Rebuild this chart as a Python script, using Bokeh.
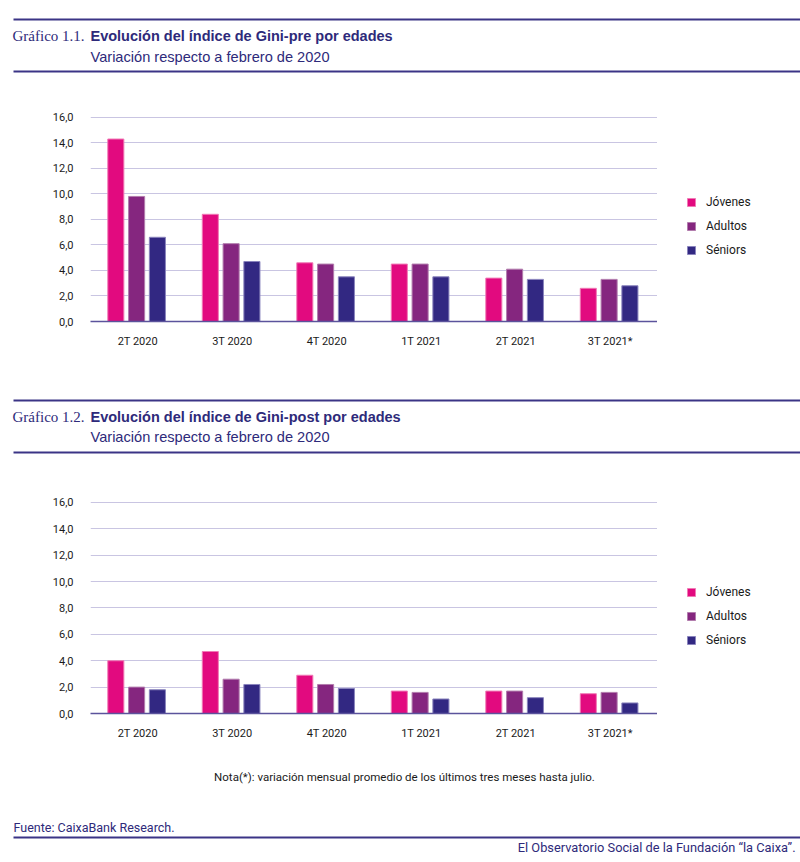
from bokeh.plotting import figure
from bokeh.models import (Range1d, FactorRange, FixedTicker, Legend, LegendItem,
                          ColumnDataSource, CustomJSTickFormatter)
from bokeh.transform import dodge
from bokeh.layouts import column, row
from bokeh.embed import file_html
from bokeh.resources import INLINE
from bokeh.core.properties import value

# ---------------- data ----------------
quarters = ["2T 2020", "3T 2020", "4T 2020", "1T 2021", "2T 2021", "3T 2021*"]
series_names = ["Jóvenes", "Adultos", "Séniors"]

pre_jovenes = [14.3, 8.4, 4.6, 4.5, 3.4, 2.6]
pre_adultos = [9.8, 6.1, 4.5, 4.5, 4.1, 3.3]
pre_seniors = [6.6, 4.7, 3.5, 3.5, 3.3, 2.8]

post_jovenes = [4.0, 4.7, 2.9, 1.7, 1.7, 1.5]
post_adultos = [2.0, 2.6, 2.2, 1.6, 1.7, 1.6]
post_seniors = [1.8, 2.2, 1.9, 1.1, 1.2, 0.8]

y_ticks = [0, 2, 4, 6, 8, 10, 12, 14, 16]

# ---------------- style ----------------
W = 800
CHART_W = 657
LEG_W = W - CHART_W
INDIGO = "#2e2a7a"
RULE = "#3b3486"
FILL = ["#e20a7f", "#85267f", "#322882"]
EDGE = ["#f07ab5", "#b27cad", "#8a84bd"]
OFFSETS = [-0.232, -0.012, 0.208]
SANS = "Roboto"
HEAD = "Liberation Sans"
SERIF = "Liberation Serif"


def blank(h, w=W):
    p = figure(width=w, height=h, x_range=Range1d(0, w), y_range=Range1d(h, 0),
               x_axis_type=None, y_axis_type=None, output_backend="svg",
               toolbar_location=None, tools="", min_border=0, frame_align=False)
    p.grid.visible = False
    p.outline_line_color = None
    return p


def header(h, line_ys, title_y, sub_y, num, title, subtitle):
    p = blank(h)
    p.segment(x0=[13, 13], y0=line_ys, x1=[W, W], y1=line_ys,
              line_color=RULE, line_width=2)
    p.text(x=[12], y=[title_y], text=[num], text_font=value(SERIF),
           text_font_size="15px", text_color=INDIGO, text_baseline="middle")
    p.text(x=[90], y=[title_y], text=[title], text_font=value(HEAD),
           text_font_size="14.5px", text_font_style="bold", text_color=INDIGO,
           text_baseline="middle")
    p.text(x=[90], y=[sub_y], text=[subtitle], text_font=value(HEAD),
           text_font_size="14.6px", text_color=INDIGO, text_baseline="middle")
    return p


def chart(top, frame_h, bottom, jov, adu, sen, legend_vy):
    h = top + frame_h + bottom
    p = figure(width=CHART_W, height=h, x_range=FactorRange(*quarters),
               y_range=Range1d(0, 16.3), output_backend="svg",
               toolbar_location=None, tools="", frame_align=False,
               min_border_left=90, min_border_right=0,
               min_border_top=top, min_border_bottom=bottom)
    p.outline_line_color = None
    src = ColumnDataSource(dict(q=quarters, j=jov, a=adu, s=sen))
    for col, off, fc, ec in zip(["j", "a", "s"], OFFSETS, FILL, EDGE):
        p.vbar(x=dodge("q", off, range=p.x_range), top=col, width=0.17,
               source=src, fill_color=fc, line_color=ec, line_width=1)

    p.xgrid.grid_line_color = None
    p.ygrid.grid_line_color = "#c9c5e2"
    p.ygrid.grid_line_width = 1

    p.yaxis.ticker = FixedTicker(ticks=y_ticks)
    p.yaxis.formatter = CustomJSTickFormatter(
        code="return tick.toFixed(1).replace('.', ',');")
    p.yaxis.axis_line_color = None
    p.yaxis.major_tick_line_color = None
    p.yaxis.minor_tick_line_color = None
    p.yaxis.major_tick_out = 0
    p.yaxis.major_tick_in = 0
    p.yaxis.major_label_standoff = 17
    p.yaxis.major_label_text_font = SANS
    p.yaxis.major_label_text_font_size = "11px"
    p.yaxis.major_label_text_color = "#1a1a1a"

    p.xaxis.axis_line_color = "#5b539c"
    p.xaxis.axis_line_width = 1.5
    p.xaxis.major_tick_line_color = None
    p.xaxis.major_tick_out = 0
    p.xaxis.major_tick_in = 0
    p.xaxis.major_label_standoff = 13
    p.xaxis.major_label_text_font = SANS
    p.xaxis.major_label_text_font_size = "11px"
    p.xaxis.major_label_text_color = "#1a1a1a"

    # legend panel to the right of the chart (proxy glyphs lie outside its view)
    lp = figure(width=LEG_W, height=h, x_range=Range1d(0, LEG_W),
                y_range=Range1d(0, h), x_axis_type=None, y_axis_type=None,
                output_backend="svg", toolbar_location=None, tools="",
                min_border=0, frame_align=False)
    lp.grid.visible = False
    lp.outline_line_color = None
    rs = [lp.vbar(x=[-1000], top=[0], width=1, fill_color=fc, line_color=ec,
                  line_width=1)
          for fc, ec in zip(FILL, EDGE)]
    legend = Legend(items=[LegendItem(label=n, renderers=[r])
                           for n, r in zip(series_names, rs)],
                    location=(29, legend_vy + bottom))
    legend.border_line_color = None
    legend.background_fill_alpha = 0
    legend.padding = 0
    legend.margin = 0
    legend.spacing = 10
    legend.glyph_width = 10
    legend.glyph_height = 10
    legend.label_height = 12
    legend.label_standoff = 10
    legend.label_text_font = SANS
    legend.label_text_font_size = "12px"
    legend.label_text_color = "#1a1a1a"
    legend.label_text_baseline = "middle"
    lp.add_layout(legend)
    return row(p, lp, spacing=0)


h1 = header(96, [19, 71], 35, 56, "Gráfico 1.1.",
            "Evolución del índice de Gini-pre por edades",
            "Variación respecto a febrero de 2020")
c1 = chart(17, 208, 39, pre_jovenes, pre_adultos, pre_seniors, 64)
h2 = header(120, [40, 92], 56, 76, "Gráfico 1.2.",
            "Evolución del índice de Gini-post por edades",
            "Variación respecto a febrero de 2020")
c2 = chart(18, 215, 37, post_jovenes, post_adultos, post_seniors, 66)

f = blank(112)
f.text(x=[404], y=[26], text=["Nota(*): variación mensual promedio de los últimos tres meses hasta julio."],
       text_font=value(SANS), text_font_size="11.5px", text_color="#1a1a1a",
       text_align="center", text_baseline="middle")
f.text(x=[13], y=[77], text=["Fuente: CaixaBank Research."],
       text_font=value(SANS), text_font_size="12.5px", text_color=INDIGO,
       text_baseline="middle")
f.segment(x0=[13], y0=[87], x1=[W], y1=[87], line_color=RULE, line_width=2)
f.text(x=[795], y=[97], text=["El Observatorio Social de la Fundación “la Caixa”."],
       text_font=value(SANS), text_font_size="12.8px", text_color=INDIGO,
       text_align="right", text_baseline="middle")

layout = column(h1, c1, h2, c2, f, spacing=0)
open("out.html", "w").write(file_html(layout, INLINE))
